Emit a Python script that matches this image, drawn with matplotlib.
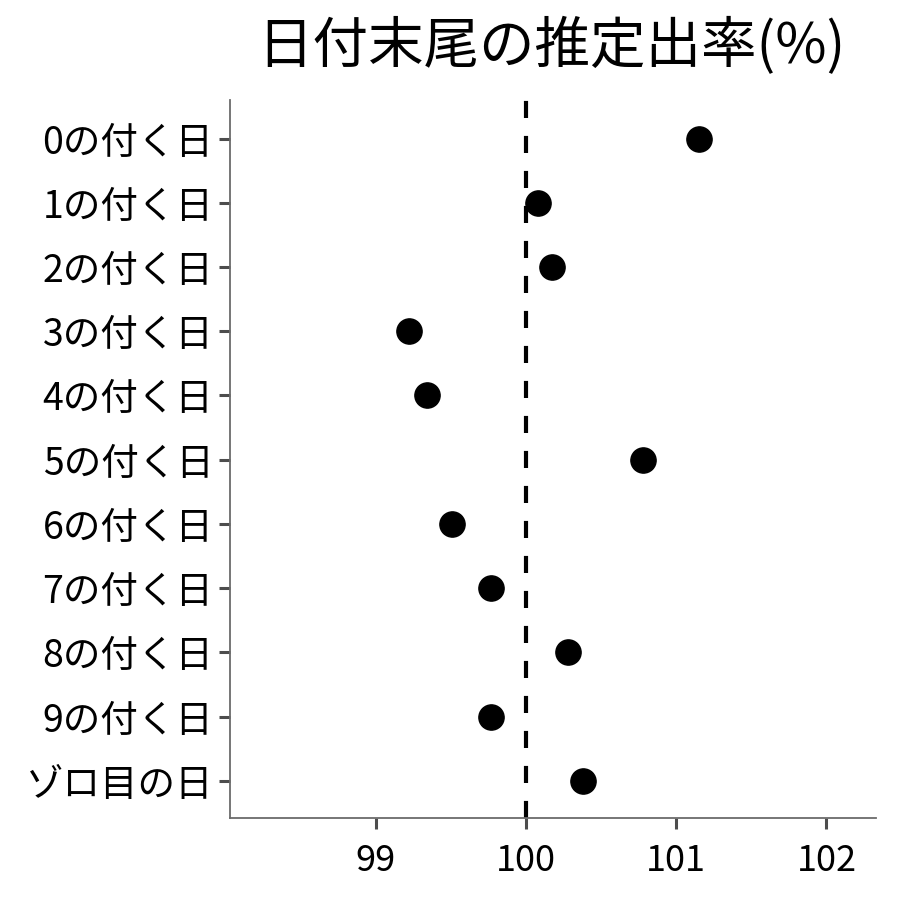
import numpy as np
import matplotlib
matplotlib.use("Agg")
import matplotlib.pyplot as plt

plt.rcParams['font.family'] = ['Noto Sans CJK JP', 'DejaVu Sans']

# 日付末尾ごとの推定出率
labels = ['0の付く日', '1の付く日', '2の付く日', '3の付く日', '4の付く日',
          '5の付く日', '6の付く日', '7の付く日', '8の付く日', '9の付く日',
          'ゾロ目の日']
rates = [101.15, 100.08, 100.17, 99.22, 99.34, 100.78, 99.51, 99.77,
         100.28, 99.77, 100.38]
xticks = [99, 100, 101, 102]

fig = plt.figure(figsize=(9, 9), dpi=100)
ax = fig.add_axes([0.2556, 0.0911, 0.7178, 0.7978])

ypos = np.arange(len(labels))
ax.axvline(100, color='black', linestyle=(0, (4.1, 4.3)), linewidth=3.0, zorder=1)
ax.scatter(rates, ypos, s=330, color='black', zorder=3)

ax.set_xlim(98.03, 102.33)
ax.set_ylim(len(labels) - 1 + 0.58, -0.6)
ax.set_yticks(ypos)
ax.set_yticklabels(labels)
ax.set_xticks(xticks)
ax.set_xticklabels([str(t) for t in xticks])

for side in ['top', 'right']:
    ax.spines[side].set_visible(False)
for side in ['left', 'bottom']:
    ax.spines[side].set_color('#6b6b6b')
    ax.spines[side].set_linewidth(1.3)
ax.tick_params(axis='both', colors='#4d4d4d', width=2.2, length=8,
               labelcolor='black')
ax.tick_params(axis='x', pad=10, labelsize=26)
ax.tick_params(axis='y', pad=4, labelsize=27)

fig.suptitle('日付末尾の推定出率(%)', fontsize=40, x=0.613, y=0.98)

fig.savefig('out.png', dpi=100)
